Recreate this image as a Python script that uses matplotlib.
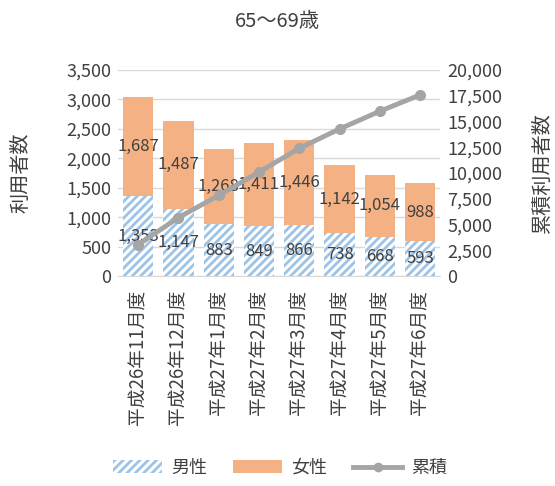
import numpy as np
import matplotlib.pyplot as plt
from matplotlib.patches import Patch
from matplotlib.lines import Line2D

plt.rcParams['font.family'] = ['Noto Sans CJK JP', 'DejaVu Sans']
plt.rcParams['hatch.color'] = '#9DC3E6'
plt.rcParams['hatch.linewidth'] = 2.0

months = ['平成26年11月度', '平成26年12月度', '平成27年1月度', '平成27年2月度',
          '平成27年3月度', '平成27年4月度', '平成27年5月度', '平成27年6月度']
male = [1353, 1147, 883, 849, 866, 738, 668, 593]
female = [1687, 1487, 1268, 1411, 1446, 1142, 1054, 988]
cumulative = [3040, 5674, 7825, 10085, 12397, 14277, 15999, 17580]

txt = '#404040'
fig = plt.figure(figsize=(5.55, 4.86), dpi=100)
ax = fig.add_axes([0.2126, 0.432, 0.5806, 0.424])
x = np.arange(len(months))

ax.bar(x, male, width=0.75, color='white', edgecolor='#9DC3E6', linewidth=0, hatch='////')
ax.bar(x, female, width=0.75, bottom=male, color='#F4B183', linewidth=0)
for i in range(len(x)):
    ax.text(x[i], male[i] / 2, f'{male[i]:,}', ha='center', va='center', fontsize=12, color=txt)
    ax.text(x[i], male[i] + female[i] / 2, f'{female[i]:,}', ha='center', va='center', fontsize=12, color=txt)

ax.set_ylim(0, 3500)
ax.set_yticks(np.arange(0, 3501, 500))
ax.set_yticklabels([f'{v:,}' for v in range(0, 3501, 500)])
ax.set_xlim(-0.5, len(x) - 0.5)
ax.set_xticks(x)
ax.set_xticklabels(months, rotation=90, fontsize=13.5)
ax.grid(axis='y', color='#D9D9D9', linewidth=1)
ax.set_axisbelow(True)
for s in ['top', 'right', 'left']:
    ax.spines[s].set_visible(False)
ax.spines['bottom'].set_color('#D9D9D9')
ax.tick_params(axis='y', length=0, labelsize=13, colors=txt, pad=5)
ax.tick_params(axis='x', length=0, colors=txt, pad=10)
ax.set_ylabel('利用者数', fontsize=14.5, color=txt)
ax.yaxis.set_label_coords(-0.27, 0.5)

ax2 = ax.twinx()
ax2.plot(x, cumulative, color='#A5A5A5', linewidth=3.5, marker='o', markersize=7)
ax2.set_ylim(0, 20000)
ax2.set_yticks(np.arange(0, 20001, 2500))
ax2.set_yticklabels([f'{v:,}' for v in range(0, 20001, 2500)])
for s in ax2.spines.values():
    s.set_visible(False)
ax2.tick_params(length=0, labelsize=13, colors=txt, pad=5)
ax2.set_ylabel('累積利用者数', fontsize=14.5, color=txt, rotation=90)
ax2.yaxis.set_label_coords(1.285, 0.5)

fig.text(0.5, 0.955, '65～69歳', ha='center', va='center', fontsize=14.5, color=txt)

handles = [Patch(facecolor='white', edgecolor='#9DC3E6', hatch='////', linewidth=0),
           Patch(facecolor='#F4B183', linewidth=0),
           Line2D([0], [0], color='#A5A5A5', linewidth=3.5, marker='o', markersize=6)]
fig.legend(handles, ['男性', '女性', '累積'], loc='center', bbox_to_anchor=(0.505, 0.037),
           ncol=3, frameon=False, fontsize=13, handlelength=2.7, columnspacing=1.45,
           labelcolor=txt, handletextpad=0.5)

fig.savefig('out.png', dpi=100)
